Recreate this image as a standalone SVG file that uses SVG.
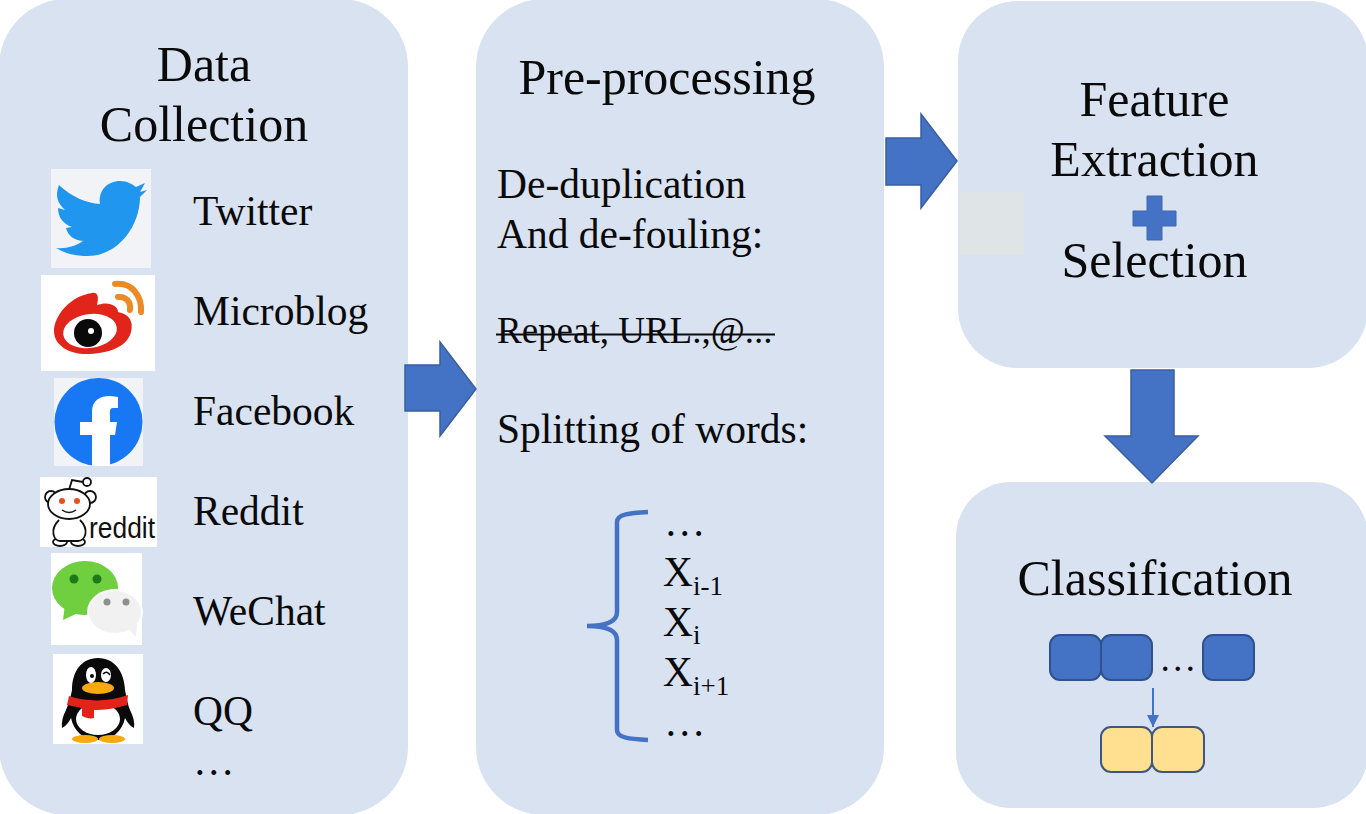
<svg xmlns="http://www.w3.org/2000/svg" width="1366" height="814" viewBox="0 0 1366 814">
<style>
text{font-family:"Liberation Serif","Times New Roman",serif;fill:#0a0a0a}
.h{font-size:50px;text-anchor:middle}
.t{font-size:41.500px}
.s{font-size:27px}
.panel{fill:#d9e2f1}
.ar{fill:#4472c4;stroke:#3a5f9f;stroke-width:1.500}
.blue{fill:#4472c4;stroke:#2f528f;stroke-width:2}
.yel{fill:#ffe090;stroke:#3f5680;stroke-width:2}
</style>
<defs>
<marker id="tip" markerUnits="userSpaceOnUse" markerWidth="13" markerHeight="13" refX="12" refY="6" orient="auto"><path d="M0 0L12 6L0 12Z" fill="#4472c4"/></marker>
</defs>
<rect width="1366" height="814" fill="#fff"/>
<g id="data-collection">
<rect class="panel" x="-1" y="-1" width="409" height="816" rx="68"/>
<text class="h" x="204" y="81">Data</text>
<text class="h" x="204" y="141">Collection</text>
<text class="t" x="193" y="225">Twitter</text>
<text class="t" x="193" y="325">Microblog</text>
<text class="t" x="193" y="425">Facebook</text>
<text class="t" x="193" y="525">Reddit</text>
<text class="t" x="193" y="625">WeChat</text>
<text class="t" x="193" y="725">QQ</text>
<text class="t" x="193" y="775">…</text>
</g>
<g id="icon-twitter">
<rect x="51" y="169" width="100" height="99" fill="#f1f3f6"/>
<path fill="#2196ee" d="M59 185C72 197 86 203 100 204C98 190 108 181 120 181C127 181 132 184 136 187L145 183L140 192L147 190L140 197C140 226 118 256 88 256C76 256 66 254 56 248C66 249 76 246 83 241C74 240 68 236 66 228L72 227C63 224 58 217 58 208L65 210C57 203 55 195 59 185Z"/>
</g>
<g id="icon-weibo">
<rect x="41" y="275" width="114" height="96" fill="#fff"/>
<path fill="#e1251b" d="M54 331C54 316 70 296 92 293C98 292 99 297 97 305C108 301 118 305 118 312C128 314 134 320 131 332C127 348 106 354 86 354C70 354 54 346 54 331Z"/>
<ellipse cx="90" cy="331" rx="27" ry="17" fill="#fff" transform="rotate(-8 90 331)"/>
<circle cx="88" cy="333" r="14" fill="#0a0a0a"/>
<circle cx="91" cy="331" r="3" fill="#fff"/>
<path fill="none" stroke="#ec8a25" stroke-width="6" stroke-linecap="round" d="M115 284C132 282 142 296 141 312M118 297C126 296 131 302 130 310"/>
</g>
<g id="icon-facebook">
<rect x="54" y="378" width="89" height="88" fill="#f1f3f6"/>
<circle cx="98.500" cy="422" r="44" fill="#1877f2"/>
<path fill="#fff" d="M92 466V435H80V422H92V412C92 400 100 396 110 396C113 396 116 397 118 397V408H113C109 408 110 412 110 415V422H117L115 435H110V466Z"/>
</g>
<g id="icon-reddit">
<rect x="40" y="477" width="117" height="70" fill="#fff"/>
<g fill="#fff" stroke="#111" stroke-width="1.800">
<path d="M69 490L72 480L83 482" fill="none"/>
<circle cx="87" cy="482" r="4"/>
<circle cx="51" cy="497" r="6"/>
<circle cx="90" cy="497" r="6"/>
<ellipse cx="69" cy="504" rx="21" ry="15"/>
<ellipse cx="60" cy="542" rx="7" ry="4"/>
<ellipse cx="78" cy="542" rx="7" ry="4"/>
<path d="M59 520C49 530 54 541 60 541H78C85 541 90 530 80 520"/>
</g>
<circle cx="62" cy="501" r="3" fill="#e8501a"/>
<circle cx="77" cy="501" r="3" fill="#e8501a"/>
<path d="M62 510Q69 515 76 510" fill="none" stroke="#111" stroke-width="1.500"/>
<text x="89" y="538" textLength="66" lengthAdjust="spacingAndGlyphs" style="font-family:'Liberation Sans',Arial,sans-serif;font-size:29px;fill:#111">reddit</text>
</g>
<g id="icon-wechat">
<rect x="51" y="553" width="91" height="92" fill="#fff"/>
<ellipse cx="85" cy="588" rx="33" ry="27" fill="#6fcf3f"/>
<path d="M65 604L63 620L80 612Z" fill="#6fcf3f"/>
<circle cx="74" cy="579" r="4.500" fill="#1c7a1c"/>
<circle cx="97" cy="579" r="4.500" fill="#1c7a1c"/>
<ellipse cx="115" cy="612" rx="27" ry="22" fill="#f0f1f0" stroke="#fff" stroke-width="2"/>
<path d="M128 628L136 637L137 624Z" fill="#f0f1f0"/>
<circle cx="107" cy="602" r="3.500" fill="#8f8f8f"/>
<circle cx="126" cy="602" r="3.500" fill="#8f8f8f"/>
</g>
<g id="icon-qq">
<rect x="53" y="654" width="90" height="90" fill="#fff"/>
<path fill="#0a0a0a" d="M98 658C115 658 124 672 125 690C127 700 128 705 130 710C133 716 135 722 134 728C130 726 127 722 125 718C122 732 112 740 98 740C84 740 74 732 71 718C69 722 66 726 62 728C61 722 63 716 66 710C68 705 70 700 72 690C72 672 81 658 98 658Z"/>
<ellipse cx="98" cy="719" rx="22" ry="16" fill="#fff"/>
<path fill="#e2231a" d="M69 696C86 702 110 702 128 695L127 705C115 709 103 710 94 710V718C90 719 86 718 82 716V708C77 707 72 706 67 705Z"/>
<ellipse cx="98" cy="688" rx="16" ry="6" fill="#f7a90d"/>
<ellipse cx="91" cy="675" rx="5" ry="8" fill="#fff"/>
<ellipse cx="106" cy="675" rx="5" ry="7" fill="#fff"/>
<circle cx="92" cy="676" r="2" fill="#0a0a0a"/>
<path d="M103 674Q107 670 110 675" fill="none" stroke="#0a0a0a" stroke-width="1.500"/>
<ellipse cx="85" cy="739" rx="13" ry="4" fill="#f7a90d"/>
<ellipse cx="112" cy="739" rx="13" ry="4" fill="#f7a90d"/>
</g>
<g id="pre-processing">
<rect class="panel" x="476" y="-1" width="408" height="816" rx="68"/>
<text class="h" x="667" y="94">Pre-processing</text>
<text class="t" x="497" y="198">De-duplication</text>
<text class="t" x="497" y="248">And de-fouling:</text>
<text x="497" y="343" font-size="37">Repeat, URL.,@...</text>
<line x1="496" y1="334.500" x2="775" y2="334.500" stroke="#0a0a0a" stroke-width="2"/>
<text class="t" x="497" y="443">Splitting of words:</text>
<path d="M648 512C630 513 617 514 617 522V612C617 622 605 626 587 626C605 626 617 630 617 640V730C617 738 630 739 648 740" fill="none" stroke="#4472c4" stroke-width="4.500"/>
<text class="t" x="664" y="536">…</text>
<text class="t" x="663" y="586">X<tspan class="s" dy="9">i-1</tspan></text>
<text class="t" x="663" y="636">X<tspan class="s" dy="8">i</tspan></text>
<text class="t" x="663" y="686">X<tspan class="s" dy="9">i+1</tspan></text>
<text class="t" x="664" y="736">…</text>
</g>
<g id="feature-extraction">
<rect class="panel" x="958" y="1" width="410" height="367" rx="60"/>
<rect x="960" y="192" width="64" height="63" fill="#dfe5e6"/>
<text class="h" x="1154.500" y="116">Feature</text>
<text class="h" x="1154.500" y="176">Extraction</text>
<path d="M1147 196H1162V211H1176V226H1162V240H1147V226H1133V211H1147Z" fill="#4472c4" stroke="#3f66ae"/>
<text class="h" x="1154.500" y="277">Selection</text>
</g>
<g id="classification">
<rect class="panel" x="956" y="482" width="412" height="326" rx="55"/>
<text class="h" x="1155" y="595">Classification</text>
<rect class="blue" x="1050" y="635" width="51" height="45" rx="10"/>
<rect class="blue" x="1101" y="635" width="51" height="45" rx="10"/>
<rect class="blue" x="1203" y="635" width="51" height="45" rx="10"/>
<text x="1159" y="671" font-size="37.500">…</text>
<rect class="yel" x="1101" y="727" width="51" height="45" rx="10"/>
<rect class="yel" x="1152" y="727" width="52" height="45" rx="10"/>
</g>
<g id="connectors">
<path class="ar" d="M405 365H440V342L476 389L440 436V411H405Z"/>
<path class="ar" d="M886 138H921V114L957 161L921 208V185H886Z"/>
<path class="ar" d="M1131 370H1174V436H1198L1152 483L1105 436H1131Z"/>
<line x1="1153" y1="688" x2="1153" y2="727" stroke="#4472c4" stroke-width="2" marker-end="url(#tip)"/>
</g>
</svg>
